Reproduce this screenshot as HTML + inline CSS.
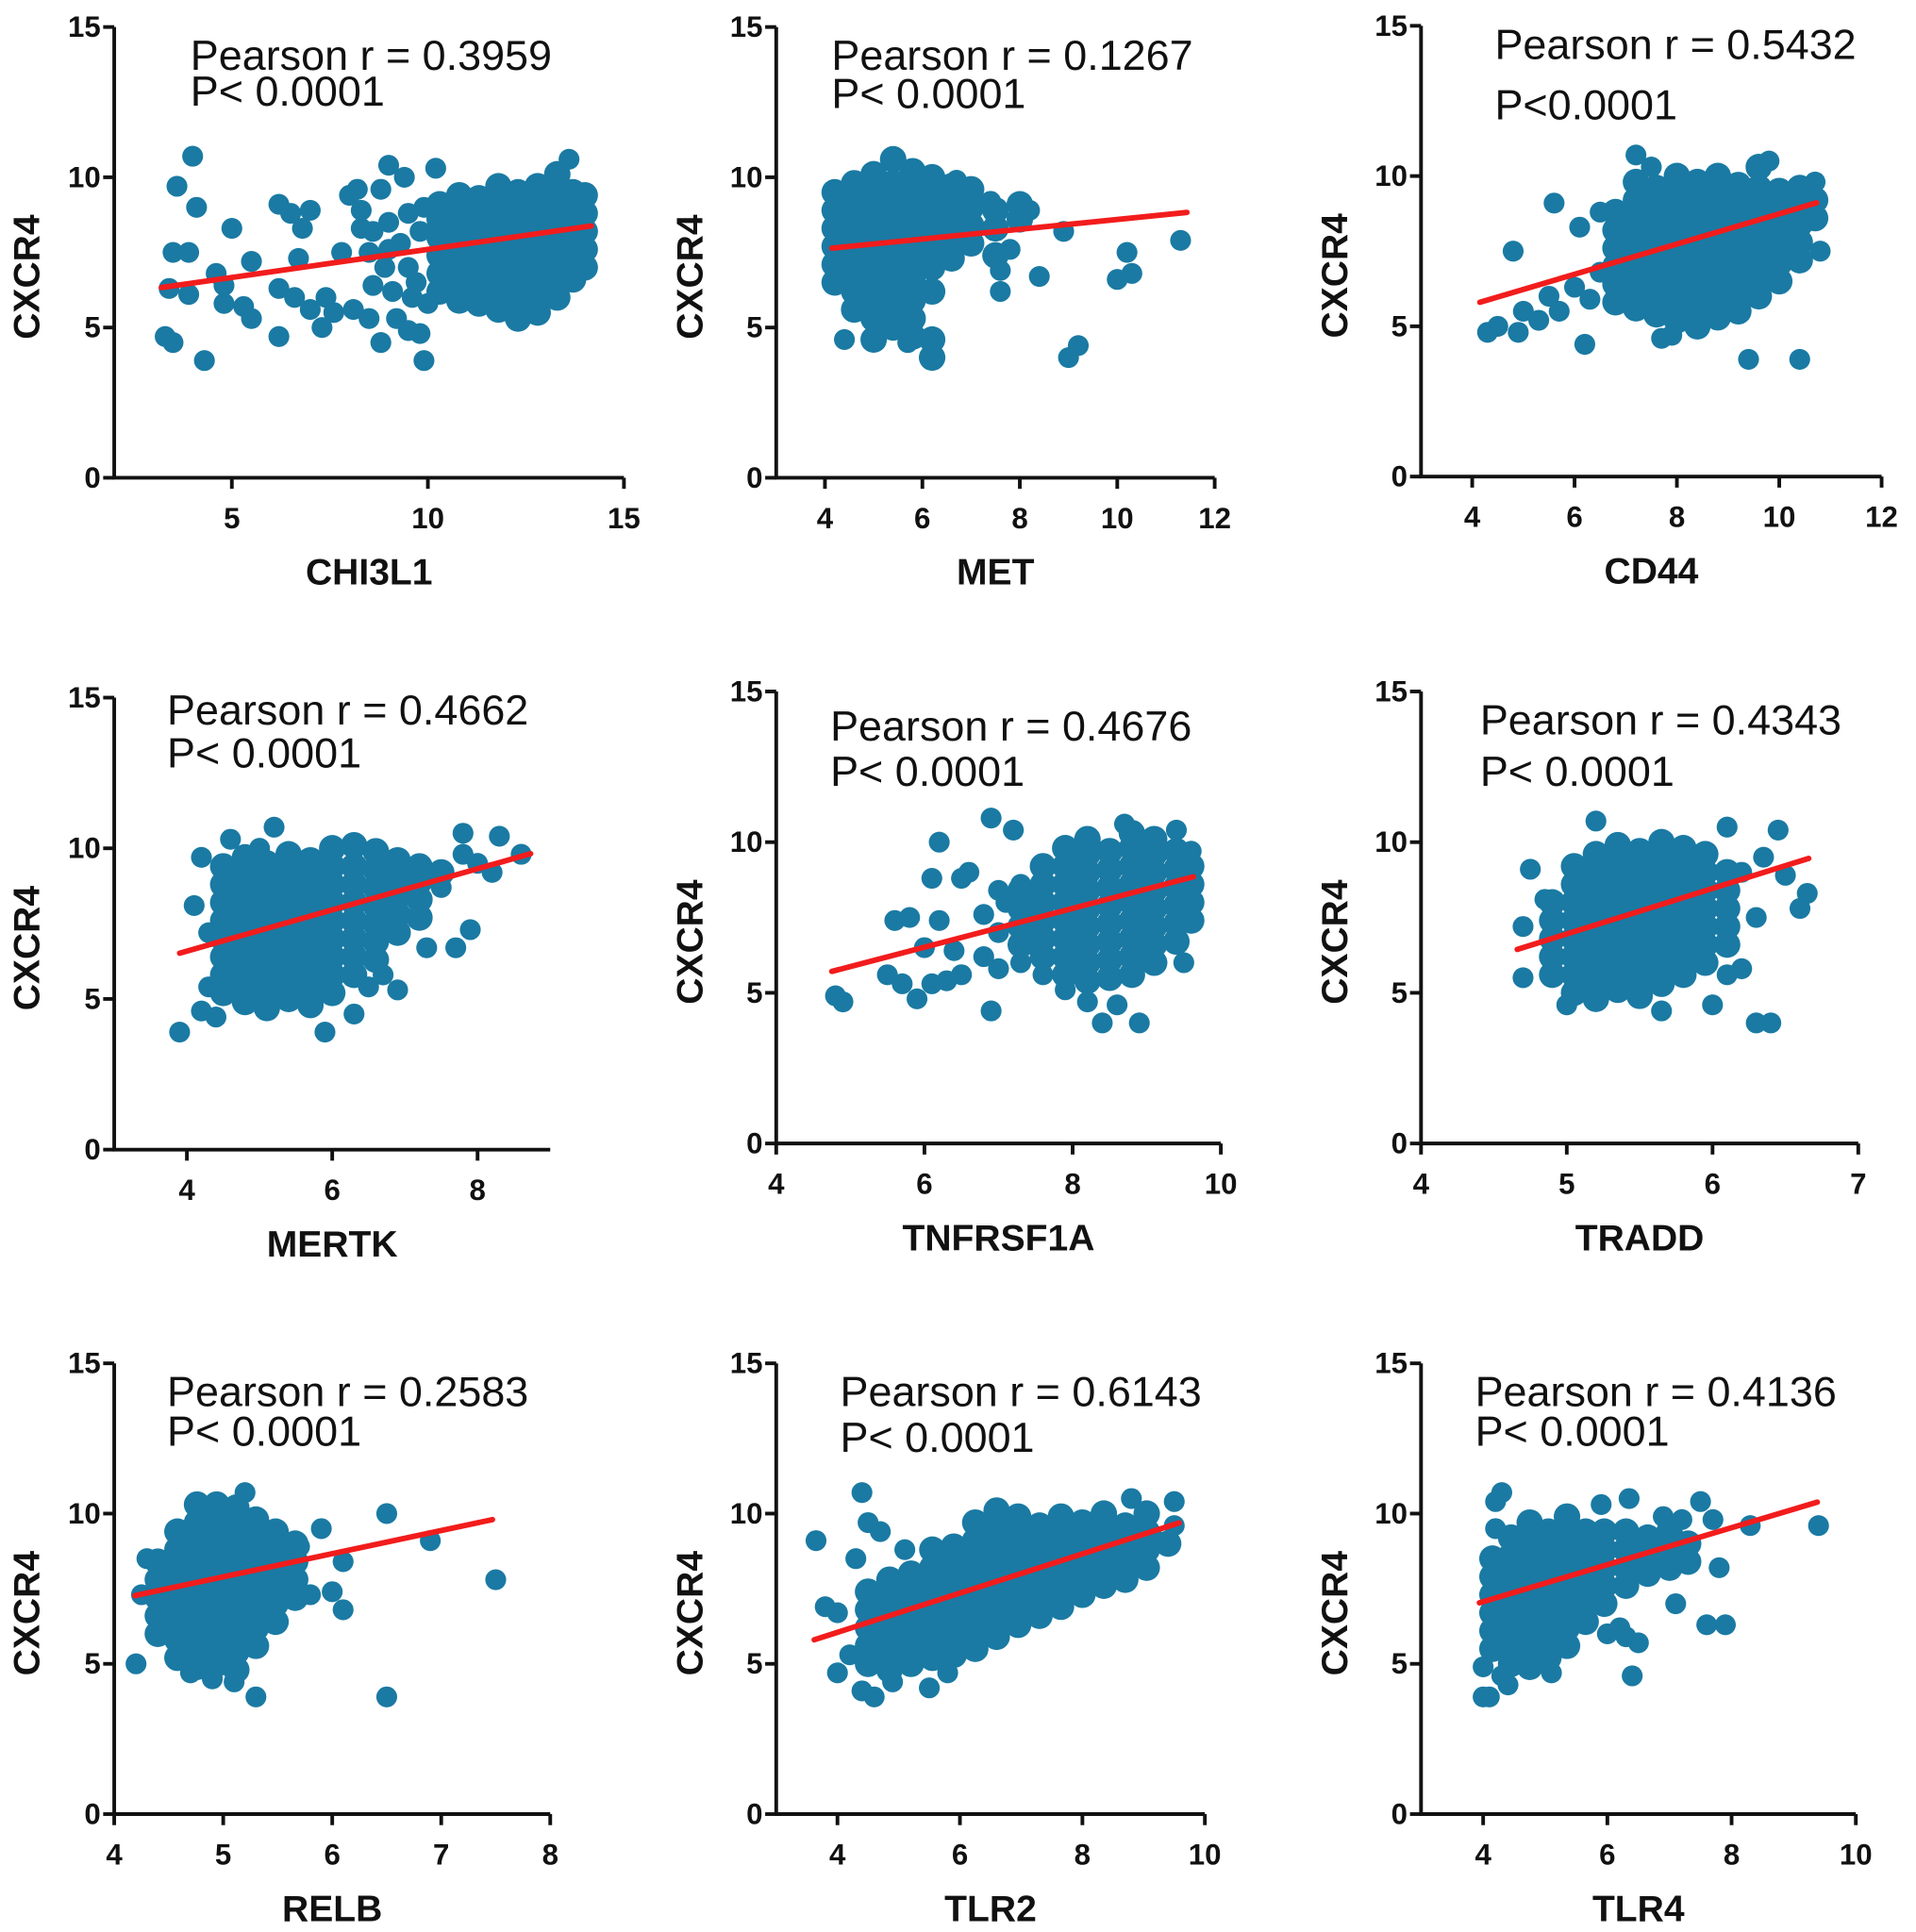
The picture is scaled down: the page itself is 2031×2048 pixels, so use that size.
<!DOCTYPE html>
<html><head><meta charset="utf-8">
<style>
html,body{margin:0;padding:0;background:#fff;}
svg{display:block;}
text{font-family:"Liberation Sans",Arial,sans-serif;}
</style></head>
<body>
<svg id="fig" width="2031" height="2048" viewBox="0 0 1560 1573" preserveAspectRatio="none" xmlns="http://www.w3.org/2000/svg"></svg>
<script>
// ---- Data (CXCR4 vs gene expression) ----
const geneNames = ["CHI3L1","MET","CD44","MERTK","TNFRSF1A","TRADD","RELB","TLR2","TLR4"];
const pearsonR = ["0.3959","0.1267","0.5432","0.4662","0.4676","0.4343","0.2583","0.6143","0.4136"];
const pValueText = ["P< 0.0001","P< 0.0001","P<0.0001","P< 0.0001","P< 0.0001","P< 0.0001","P< 0.0001","P< 0.0001","P< 0.0001"];
const xDomains = [[2,15],[3,12],[3,12],[3,9],[4,10],[4,7],[4,8],[3,10],[3,10]];
const xTicks = [[5,10,15],[4,6,8,10,12],[4,6,8,10,12],[4,6,8],[4,6,8,10],[4,5,6,7],[4,5,6,7,8],[4,6,8,10],[4,6,8,10]];
const yTicks = [0,5,10,15];
const fitStart = [[3.2,6.33],[4.14,7.64],[4.15,5.8],[3.9,6.52],[4.75,5.71],[4.66,6.44],[4.19,7.27],[3.62,5.8],[3.94,7.03]];
const fitEnd = [[14.17,8.38],[11.43,8.83],[10.73,9.11],[8.73,9.82],[9.63,8.85],[6.66,9.46],[7.47,9.8],[9.58,9.69],[9.38,10.38]];

// dense clusters: [x, [y values]]
const cluster1 = [[10.3,[6.2,6.8,7.4,8.0,8.6,9.1]],[10.8,[5.9,6.5,7.1,7.7,8.3,8.9,9.4]],[11.3,[5.8,6.4,7.0,7.6,8.2,8.8,9.3]],[11.8,[5.6,6.2,6.8,7.4,8.0,8.6,9.2,9.7]],[12.3,[5.3,5.9,6.5,7.1,7.7,8.3,8.9,9.5]],[12.8,[5.5,6.1,6.7,7.3,7.9,8.5,9.1,9.7]],[13.3,[6.0,6.6,7.2,7.8,8.4,9.0,9.6,10.1]],[13.7,[6.6,7.2,7.8,8.4,9.0,9.5]],[14.0,[7.0,7.6,8.2,8.8,9.4]]];
const outliers1 = [[3.3,4.7],[3.5,4.5],[4.3,3.9],[4.0,10.7],[3.6,9.7],[4.1,9.0],[3.5,7.5],[3.9,7.5],[3.4,6.3],[3.9,6.1],[4.6,6.8],[4.8,6.4],[4.8,5.8],[5.0,8.3],[5.3,5.7],[5.5,5.3],[5.5,7.2],[6.2,9.1],[6.5,8.8],[6.8,8.3],[6.7,7.3],[7.0,8.9],[6.2,4.7],[6.2,6.3],[6.6,6.0],[7.0,5.6],[7.3,5.0],[7.4,6.0],[7.6,5.5],[8.0,9.4],[8.2,9.6],[8.3,8.9],[7.8,7.5],[8.1,5.6],[8.3,8.3],[8.5,5.3],[8.8,4.5],[8.8,9.6],[9.0,10.4],[9.4,10.0],[9.2,5.3],[9.5,4.9],[9.8,4.8],[9.9,3.9],[9.0,7.6],[8.6,6.4],[9.5,8.8],[10.2,10.3],[9.7,6.5],[10.0,5.8],[8.5,7.5],[8.6,8.2],[9.0,8.5],[9.3,7.8],[9.5,7.0],[9.8,8.2],[9.9,9.0],[9.1,6.2],[8.9,7.0],[9.6,6.0],[13.6,10.6],[13.9,6.9]];

const cluster2 = [[4.2,[6.5,7.1,7.7,8.3,8.9,9.5]],[4.6,[5.6,6.2,6.8,7.4,8.0,8.6,9.2,9.8]],[5.0,[4.6,5.3,5.9,6.5,7.1,7.7,8.3,8.9,9.5,10.1]],[5.4,[5.0,5.6,6.2,6.8,7.4,8.0,8.6,9.2,9.8,10.6]],[5.8,[4.7,5.3,5.9,6.5,7.1,7.7,8.3,8.9,9.5,10.2]],[6.2,[4.0,4.6,6.2,7.0,7.6,8.2,8.8,9.4,10.0]],[6.6,[7.3,7.9,8.5,9.1,9.7]],[7.0,[7.8,8.4,9.0,9.6]],[7.5,[7.4,8.3,8.9]],[8.0,[8.6,9.1]]];
const outliers2 = [[9.0,4.0],[9.2,4.4],[10.0,6.6],[10.3,6.8],[10.2,7.5],[11.3,7.9],[8.9,8.2],[8.4,6.7],[7.6,6.2],[7.6,6.9],[7.8,7.6],[8.2,8.9],[7.4,9.2],[6.7,9.9],[5.7,4.5],[4.4,4.6]];

const cluster3 = [[6.8,[5.8,6.4,7.0,7.6,8.2,8.8]],[7.2,[5.6,6.2,6.8,7.4,8.0,8.6,9.2,9.8]],[7.6,[5.4,6.0,6.6,7.2,7.8,8.4,9.0,9.6]],[8.0,[5.2,5.8,6.4,7.0,7.6,8.2,8.8,9.4,10.0]],[8.4,[5.0,5.6,6.2,6.8,7.4,8.0,8.6,9.2,9.8]],[8.8,[5.3,5.9,6.5,7.1,7.7,8.3,8.9,9.5,10.0]],[9.2,[5.5,6.1,6.7,7.3,7.9,8.5,9.1,9.7]],[9.6,[6.0,6.6,7.2,7.8,8.4,9.0,9.6,10.3]],[10.0,[6.5,7.1,7.7,8.3,8.9,9.5]],[10.4,[7.2,7.8,8.4,9.0,9.6]],[10.7,[8.6,9.2]]];
const outliers3 = [[4.3,4.8],[4.5,5.0],[4.9,4.8],[5.0,5.5],[4.8,7.5],[5.5,6.0],[5.3,5.2],[5.7,5.5],[6.2,4.4],[6.0,6.3],[6.3,5.9],[5.6,9.1],[6.5,8.8],[6.1,8.3],[6.5,6.8],[9.4,3.9],[10.4,3.9],[10.8,7.5],[7.7,4.6],[7.9,4.7],[7.2,10.7],[7.5,10.3],[9.8,10.5],[10.7,9.8],[10.5,9.5]];

const cluster4 = [[4.5,[5.2,5.8,6.4,7.0,7.6,8.2,8.8,9.4]],[4.8,[4.9,5.5,6.1,6.7,7.3,7.9,8.5,9.1,9.7]],[5.1,[4.7,5.3,5.9,6.5,7.1,7.7,8.3,8.9,9.5]],[5.4,[5.0,5.6,6.2,6.8,7.4,8.0,8.6,9.2,9.8]],[5.7,[4.8,5.4,6.0,6.6,7.2,7.8,8.4,9.0,9.6]],[6.0,[5.2,5.8,6.4,7.0,7.6,8.2,8.8,9.4,10.0]],[6.3,[5.8,6.4,7.0,7.6,8.2,8.8,9.4,10.1]],[6.6,[6.3,6.9,7.5,8.1,8.7,9.3,9.9]],[6.9,[7.2,7.8,8.4,9.0,9.6]],[7.2,[7.7,8.3,8.9,9.4]],[7.5,[9.2]]];
const outliers4 = [[3.9,3.9],[4.2,4.6],[4.4,4.4],[4.3,5.4],[4.2,9.7],[4.6,10.3],[5.2,10.7],[5.0,10.0],[5.9,3.9],[6.3,4.5],[6.5,5.4],[6.7,5.8],[6.9,5.3],[7.3,6.7],[7.7,6.7],[7.9,7.3],[7.8,9.8],[7.8,10.5],[8.0,9.5],[8.3,10.4],[8.6,9.8],[8.2,9.2],[7.5,8.7],[4.1,8.1],[4.3,7.2]];

const cluster5 = [[7.3,[6.6,7.2,7.8,8.4]],[7.6,[6.2,6.8,7.4,8.0,8.6,9.2]],[7.9,[5.6,6.2,6.8,7.4,8.0,8.6,9.2,9.8]],[8.2,[5.4,6.0,6.6,7.2,7.8,8.4,9.0,9.6,10.1]],[8.5,[5.5,6.1,6.7,7.3,7.9,8.5,9.1,9.7]],[8.8,[5.6,6.2,6.8,7.4,8.0,8.6,9.2,9.8,10.3]],[9.1,[6.0,6.6,7.2,7.8,8.4,9.0,9.6,10.1]],[9.4,[6.7,7.3,7.9,8.5,9.1,9.7]],[9.6,[7.4,8.0,8.6,9.2]]];
const outliers5 = [[4.8,4.9],[4.9,4.7],[5.5,5.6],[5.7,5.3],[5.9,4.8],[6.1,5.3],[5.6,7.4],[5.8,7.5],[6.2,7.4],[6.1,8.8],[6.2,10.0],[6.5,8.8],[6.6,9.0],[6.9,10.8],[7.2,10.4],[7.3,8.6],[6.4,6.4],[6.8,6.2],[6.5,5.6],[7.0,5.8],[7.3,6.0],[6.0,6.5],[6.3,5.4],[6.9,4.4],[8.2,4.7],[8.4,4.0],[8.6,4.6],[8.9,4.0],[9.5,6.0],[9.6,9.7],[9.4,10.4],[8.7,10.6],[6.8,7.6],[7.0,7.0],[7.1,8.0],[7.0,8.4],[7.6,5.6],[7.9,5.1]];

const cluster6 = [[4.9,[5.6,6.2,6.8,7.4,8.0]],[5.05,[5.0,5.6,6.2,6.8,7.4,8.0,8.6,9.2]],[5.2,[4.8,5.4,6.0,6.6,7.2,7.8,8.4,9.0,9.6]],[5.35,[5.1,5.7,6.3,6.9,7.5,8.1,8.7,9.3,9.9]],[5.5,[4.9,5.5,6.1,6.7,7.3,7.9,8.5,9.1,9.7]],[5.65,[5.3,5.9,6.5,7.1,7.7,8.3,8.9,9.5,10.0]],[5.8,[5.6,6.2,6.8,7.4,8.0,8.6,9.2,9.8]],[5.95,[6.0,6.6,7.2,7.8,8.4,9.0,9.6]],[6.1,[6.6,7.2,7.8,8.4,9.0]]];
const outliers6 = [[4.7,5.5],[4.75,9.1],[4.85,8.1],[4.7,7.2],[5.2,10.7],[6.1,10.5],[6.45,10.4],[6.3,7.5],[6.6,7.8],[6.65,8.3],[6.3,4.0],[6.4,4.0],[6.0,4.6],[5.65,4.4],[6.2,5.8],[6.1,5.6],[6.5,8.9],[6.35,9.5],[6.2,9.0],[5.0,4.6]];

const cluster7 = [[4.4,[6.0,6.6,7.2,7.8,8.4]],[4.58,[5.2,5.8,6.4,7.0,7.6,8.2,8.8,9.4]],[4.76,[4.9,5.5,6.1,6.7,7.3,7.9,8.5,9.1,9.7,10.3]],[4.94,[5.0,5.6,6.2,6.8,7.4,8.0,8.6,9.2,9.8,10.3]],[5.12,[4.8,5.4,6.0,6.6,7.2,7.8,8.4,9.0,9.6,10.2]],[5.3,[5.6,6.2,6.8,7.4,8.0,8.6,9.2,9.8]],[5.48,[6.4,7.0,7.6,8.2,8.8,9.4]],[5.66,[7.2,7.8,8.4,9.0]]];
const outliers7 = [[4.2,5.0],[4.25,7.3],[4.3,8.5],[5.3,3.9],[6.5,3.9],[6.5,10.0],[6.9,9.1],[7.5,7.8],[6.1,6.8],[6.1,8.4],[6.0,7.4],[5.9,9.5],[5.7,8.9],[5.8,7.3],[4.9,4.5],[5.1,4.4],[5.2,10.7],[4.7,4.7]];

const cluster8 = [[4.5,[5.0,5.6,6.2,6.8,7.4]],[4.85,[4.8,5.4,6.0,6.6,7.2,7.8]],[5.2,[5.0,5.6,6.2,6.8,7.4,8.0]],[5.55,[5.2,5.8,6.4,7.0,7.6,8.2,8.8]],[5.9,[5.3,5.9,6.5,7.1,7.7,8.3,8.9]],[6.25,[5.5,6.1,6.7,7.3,7.9,8.5,9.1,9.7]],[6.6,[5.9,6.5,7.1,7.7,8.3,8.9,9.5,10.1]],[6.95,[6.3,6.9,7.5,8.1,8.7,9.3,9.9]],[7.3,[6.6,7.2,7.8,8.4,9.0,9.6]],[7.65,[6.9,7.5,8.1,8.7,9.3,9.9]],[8.0,[7.3,7.9,8.5,9.1,9.7]],[8.35,[7.6,8.2,8.8,9.4,10.0]],[8.7,[7.8,8.4,9.0,9.6]],[9.05,[8.2,8.8,9.4,10.0]],[9.4,[9.0]]];
const outliers8 = [[3.65,9.1],[3.8,6.9],[4.0,6.7],[4.4,10.7],[4.5,9.7],[4.3,8.5],[4.4,4.1],[4.6,3.9],[4.0,4.7],[4.2,5.3],[4.9,4.4],[5.5,4.2],[5.8,4.7],[9.5,10.4],[9.2,9.1],[9.5,9.6],[8.8,10.5],[4.7,9.4],[5.1,8.8]];

const cluster9 = [[4.15,[5.5,6.1,6.7,7.3,7.9,8.5]],[4.45,[5.0,5.6,6.2,6.8,7.4,8.0,8.6,9.2]],[4.75,[4.9,5.5,6.1,6.7,7.3,7.9,8.5,9.1,9.7]],[5.05,[5.2,5.8,6.4,7.0,7.6,8.2,8.8,9.4]],[5.35,[5.6,6.2,6.8,7.4,8.0,8.6,9.2,9.9]],[5.65,[6.4,7.0,7.6,8.2,8.8,9.4]],[5.95,[7.0,7.6,8.2,8.8,9.4]],[6.3,[7.6,8.2,8.8,9.4]],[6.65,[8.0,8.6,9.2]],[7.0,[8.2,8.8,9.4]],[7.3,[8.4,9.0]]];
const outliers9 = [[4.0,3.9],[4.1,3.9],[4.0,4.9],[4.3,4.6],[4.4,4.3],[4.2,10.4],[4.3,10.7],[4.2,9.5],[5.1,4.7],[6.35,10.5],[6.4,4.6],[7.5,10.4],[7.7,9.8],[8.3,9.6],[9.4,9.6],[7.8,8.2],[7.6,6.3],[7.9,6.3],[7.1,7.0],[6.0,6.0],[6.2,6.2],[6.5,5.7],[6.3,5.9],[7.2,9.8],[6.9,9.9],[5.9,10.3]];

const clusters = [cluster1,cluster2,cluster3,cluster4,cluster5,cluster6,cluster7,cluster8,cluster9];
const outliers = [outliers1,outliers2,outliers3,outliers4,outliers5,outliers6,outliers7,outliers8,outliers9];

// ---- Layout (viewBox units) ----
const layout = [
 {ax:93, ay0:389, ay15:22, axEnd:508, tx:155, t1:57, t2:86, yt:22},
 {ax:632, ay0:389, ay15:22, axEnd:989, tx:677, t1:57, t2:88, yt:562},
 {ax:1157, ay0:388, ay15:21, axEnd:1532, tx:1217, t1:48, t2:97, yt:1087},
 {ax:93, ay0:936, ay15:568, axEnd:448, tx:136, t1:590, t2:625, yt:22},
 {ax:632, ay0:931, ay15:563, axEnd:994, tx:676, t1:603, t2:640, yt:562},
 {ax:1157, ay0:931, ay15:563, axEnd:1513, tx:1205, t1:598, t2:640, yt:1087},
 {ax:93, ay0:1477, ay15:1110, axEnd:448, tx:136, t1:1145, t2:1177, yt:22},
 {ax:632, ay0:1477, ay15:1110, axEnd:981, tx:684, t1:1145, t2:1182, yt:562},
 {ax:1157, ay0:1477, ay15:1110, axEnd:1511, tx:1201, t1:1145, t2:1177, yt:1087}
];
const NS = "http://www.w3.org/2000/svg";
const svg = document.getElementById('fig');
function mk(tag, attrs, parent){
  const e = document.createElementNS(NS, tag);
  for (const k in attrs) e.setAttribute(k, attrs[k]);
  parent.appendChild(e); return e;
}
const DOT = "#1a7aa3";
layout.forEach((L, i) => {
  const g = mk('g', {}, svg);
  
  
  const [x0, x1] = xDomains[i];
  const sx = v => L.ax + (v - x0) / (x1 - x0) * (L.axEnd - L.ax);
  const sy = v => L.ay0 - v / 15 * (L.ay0 - L.ay15);

  // points
  const pg = mk('g', {fill: DOT}, g);
  
  
  clusters[i].forEach(col => {
    col[1].forEach(yv => {
      const c = mk('circle', {cx: sx(col[0]), cy: sy(yv), r: 10.8}, pg);
      
      
    });
  });
  outliers[i].forEach(p => {
    const c = mk('circle', {cx: sx(p[0]), cy: sy(p[1]), r: 8.5}, pg);
    
    
  });

  // regression line
  const ln = mk('line', {x1: sx(fitStart[i][0]), y1: sy(fitStart[i][1]), x2: sx(fitEnd[i][0]), y2: sy(fitEnd[i][1]), stroke: '#f21c1c', 'stroke-width': 4.5, 'stroke-linecap': 'round'}, g);
  
  

  // axes
  const ax = mk('path', {d: `M${L.ax},${L.ay15}V${L.ay0}H${L.axEnd}`, stroke: '#111', 'stroke-width': 3, fill: 'none'}, g);
  
  
  yTicks.forEach(t => {
    const y = sy(t);
    mk('line', {x1: L.ax - 9, y1: y, x2: L.ax, y2: y, stroke: '#111', 'stroke-width': 3}, g);
    const tt = mk('text', {x: L.ax - 11, y: y + 8, 'text-anchor': 'end', 'font-size': 24, 'font-weight': 'bold', fill: '#111'}, g);
    tt.textContent = t;
    
    
  });
  xTicks[i].forEach(t => {
    const x = sx(t);
    mk('line', {x1: x, y1: L.ay0, x2: x, y2: L.ay0 + 9, stroke: '#111', 'stroke-width': 3}, g);
    const tt = mk('text', {x: x, y: L.ay0 + 41, 'text-anchor': 'middle', 'font-size': 24, 'font-weight': 'bold', fill: '#111'}, g);
    tt.textContent = t;
    
    
  });
  // axis titles
  const xt = mk('text', {x: (L.ax + L.axEnd) / 2, y: L.ay0 + 87, 'text-anchor': 'middle', 'font-size': 30, 'font-weight': 'bold', fill: '#111'}, g);
  xt.textContent = geneNames[i];
  
  
  const yc = (L.ay0 + L.ay15) / 2 + 20;
  const yt = mk('text', {x: L.yt + 10, y: yc, 'text-anchor': 'middle', 'font-size': 30, 'font-weight': 'bold', fill: '#111', transform: `rotate(-90 ${L.yt + 10} ${yc})`}, g);
  yt.textContent = 'CXCR4';
  
  
  // annotation
  const a1 = mk('text', {x: L.tx, y: L.t1, 'font-size': 34.5, fill: '#111'}, g);
  a1.textContent = 'Pearson r = ' + pearsonR[i];
  
  
  const a2 = mk('text', {x: L.tx, y: L.t2, 'font-size': 34.5, fill: '#111'}, g);
  a2.textContent = pValueText[i];
  
  
});
</script>
</body></html>
